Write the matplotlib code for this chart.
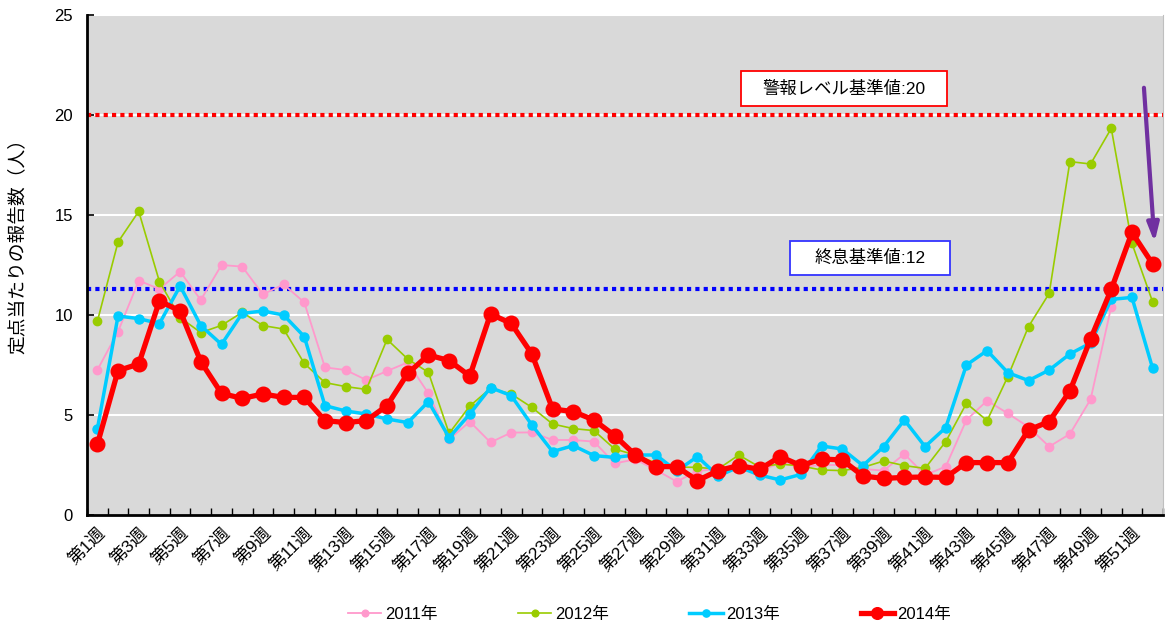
#!/usr/bin/env python3
"""
Weekly influenza reports per sentinel site, 2011-2014
"""

import numpy as np
import matplotlib
matplotlib.use("Agg")
import matplotlib.pyplot as plt
from matplotlib.patches import Rectangle
from matplotlib.ticker import FixedLocator

plt.rcParams['font.family'] = ['Liberation Sans', 'Noto Sans CJK JP', 'DejaVu Sans']

weeks = ["第%d週" % i for i in range(1, 53)]

y2011 = [7.25, 9.17, 11.72, 11.3, 12.17, 10.75, 12.5, 12.42, 11.03, 11.53,
         10.63, 7.38, 7.25, 6.75, 7.2, 7.63, 6.08, 3.78, 4.67, 3.63,
         4.12, 4.13, 3.75, 3.75, 3.67, 2.58, 2.78, 2.25, 1.67, 2.2,
         2.3, 2.5, 2.2, 2.6, 2.4, 2.5, 2.5, 2.3, 2.22, 3.05,
         2.0, 2.42, 4.75, 5.72, 5.08, 4.4, 3.42, 4.05, 5.78, 10.42]
y2012 = [9.68, 13.65, 15.18, 11.67, 9.87, 9.12, 9.48, 10.13, 9.47, 9.3,
         7.58, 6.62, 6.42, 6.28, 8.78, 7.8, 7.13, 4.08, 5.45, 6.33,
         6.05, 5.38, 4.55, 4.32, 4.22, 3.3, 3.0, 2.6, 2.4, 2.38,
         2.3, 3.0, 2.4, 2.55, 2.45, 2.25, 2.22, 2.38, 2.7, 2.47,
         2.33, 3.67, 5.58, 4.72, 6.92, 9.42, 11.08, 17.67, 17.55, 19.33,
         13.58, 10.65]
y2013 = [4.3, 9.95, 9.82, 9.57, 11.45, 9.47, 8.53, 10.08, 10.2, 10.0,
         8.92, 5.47, 5.2, 5.05, 4.8, 4.62, 5.67, 3.87, 5.05, 6.37,
         5.97, 4.5, 3.17, 3.47, 2.97, 2.88, 3.0, 3.0, 2.2, 2.92,
         1.95, 2.4, 2.0, 1.75, 2.03, 3.45, 3.3, 2.47, 3.42, 4.75,
         3.42, 4.37, 7.5, 8.22, 7.12, 6.72, 7.25, 8.05, 8.6, 10.78,
         10.88, 7.33]
y2014 = [3.53, 7.22, 7.55, 10.7, 10.2, 7.67, 6.08, 5.83, 6.05, 5.88,
         5.88, 4.72, 4.62, 4.72, 5.47, 7.08, 8.0, 7.72, 6.95, 10.05,
         9.58, 8.05, 5.3, 5.17, 4.75, 3.97, 3.0, 2.42, 2.42, 1.72,
         2.22, 2.47, 2.28, 2.92, 2.47, 2.8, 2.75, 1.95, 1.83, 1.88,
         1.9, 1.88, 2.62, 2.62, 2.62, 4.25, 4.67, 6.2, 8.8, 11.28,
         14.13, 12.55]

alarm_level = 20
end_level = 11.3


def label_box(ax, x0, x1, y0, y1, text, edge):
    """white box with a coloured frame and centred text"""
    ax.add_patch(Rectangle((x0, y0), x1 - x0, y1 - y0, fc='white', ec=edge,
                           lw=1.3, zorder=7))
    ax.text((x0 + x1) / 2, (y0 + y1) / 2, text, fontsize=12.5, ha='center',
            va='center', zorder=8)


def main():
    fig = plt.figure(figsize=(11.65, 6.26), dpi=100)
    ax = fig.add_axes([87 / 1165, 1 - 515 / 626, 1076 / 1165, 500 / 626])
    ax.set_facecolor('#d9d9d9')

    # white grid
    for v in [5, 10, 15, 20, 25]:
        ax.axhline(v, color='white', lw=1.5, zorder=1)

    ax.axhline(alarm_level, color='#ff0000', lw=3, ls=(0, (1, 1)), zorder=2)
    ax.axhline(end_level, color='#0000ff', lw=3, ls=(0, (1, 1)), zorder=2)

    ax.plot(np.arange(len(y2011)), y2011, color='#ff99cc', lw=1.3,
            marker='o', ms=6, label='2011年', zorder=3)
    ax.plot(np.arange(len(y2012)), y2012, color='#99cc00', lw=1.2,
            marker='o', ms=6, label='2012年', zorder=4)
    ax.plot(np.arange(len(y2013)), y2013, color='#00ccff', lw=2.5,
            marker='o', ms=6.5, label='2013年', zorder=5)
    ax.plot(np.arange(len(y2014)), y2014, color='#ff0000', lw=3.8,
            marker='o', ms=10.5, label='2014年', zorder=6)

    label_box(ax, 31.1, 41.05, 20.45, 22.2, '警報レベル基準値:20', '#ff0000')
    label_box(ax, 33.46, 41.19, 12.0, 13.7, '終息基準値:12', '#3333ff')

    ax.annotate('', xy=(51.1, 13.5), xytext=(50.57, 21.5),
                arrowprops=dict(arrowstyle='-|>,head_width=0.35,head_length=1.1',
                                color='#7030a0', lw=3), zorder=9)

    ax.set_xlim(-0.5, len(weeks) - 0.5)
    ax.set_ylim(0, 25)
    ax.set_yticks([0, 5, 10, 15, 20, 25])
    ax.tick_params(axis='y', direction='in', length=5, width=1.2,
                   labelsize=12, pad=10)

    ax.set_xticks(np.arange(0, len(weeks), 2))
    ax.set_xticklabels(weeks[::2], rotation=45, ha='right',
                       rotation_mode='anchor', fontsize=12.5)
    ax.tick_params(axis='x', which='major', length=0, pad=7)
    ax.xaxis.set_minor_locator(FixedLocator(np.arange(-0.5, len(weeks), 1)))
    ax.tick_params(axis='x', which='minor', direction='in', length=5, width=1)

    for side in ['left', 'bottom']:
        ax.spines[side].set_linewidth(2)
        ax.spines[side].set_color('black')
    ax.spines['top'].set_visible(False)
    ax.spines['right'].set_color('#bfbfbf')

    ax.set_ylabel('定点当たりの報告数（人）', fontsize=13.5)
    ax.yaxis.set_label_coords(-0.056, 0.548)

    fig.legend(loc='center', bbox_to_anchor=(0.5575, 0.019), ncol=4,
               frameon=False, fontsize=12, handlelength=2.0,
               columnspacing=4.85, handletextpad=0.2, markerscale=0.8)

    fig.savefig('out.png', dpi=100)


if __name__ == "__main__":
    main()
